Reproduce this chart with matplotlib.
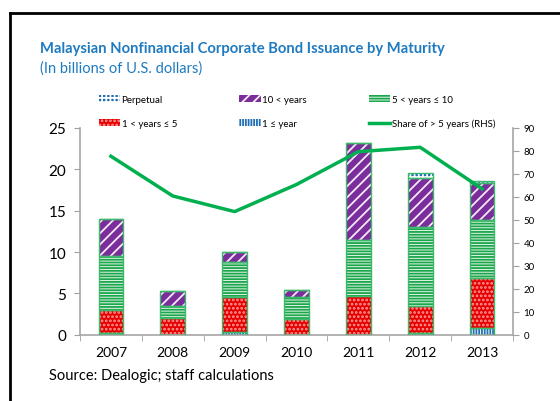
import matplotlib
matplotlib.use("Agg")
import matplotlib.pyplot as plt
import numpy as np
from matplotlib.patches import Patch
from matplotlib.lines import Line2D

plt.rcParams['font.family'] = ['Lato', 'DejaVu Sans']
plt.rcParams['hatch.linewidth'] = 1.3

years = ["2007", "2008", "2009", "2010", "2011", "2012", "2013"]
one_year = [0.15, 0.0, 0.3, 0.0, 0.0, 0.15, 0.8]
one_to_five = [2.85, 2.05, 4.3, 1.85, 4.7, 3.35, 6.05]
five_to_ten = [6.5, 1.4, 4.2, 2.65, 6.75, 9.5, 7.05]
over_ten = [4.5, 1.85, 1.15, 0.95, 11.75, 6.0, 4.5]
perpetual = [0.0, 0.0, 0.0, 0.0, 0.0, 0.5, 0.2]
share_over5 = [77.7, 60.4, 53.6, 65.4, 79.7, 81.6, 63.5]

# (values, facecolor, hatch, hatch colour, label)
series = [
    (one_year, "white", "||||||", "#1f6fb5", "1 \u2264 year"),
    (one_to_five, "#e50000", "....", "#ff9a9a", "1 < years \u2264 5"),
    (five_to_ten, "#e6f5ea", "------", "#1aa64a", "5 < years \u2264 10"),
    (over_ten, "#7b2d9b", "///", "#f4eaf8", "10 < years"),
    (perpetual, "#1f6fb5", "++++", "white", "Perpetual"),
]

fig = plt.figure(figsize=(5.6, 4.02), dpi=100)
ax = fig.add_axes([80 / 560, 1 - 335.7 / 402, 433 / 560, 206.7 / 402])
ax2 = ax.twinx()

x = np.arange(len(years))
bottom = np.zeros(len(years))
handles = {}
for vals, fc, hatch, hc, label in series:
    vals = np.array(vals)
    ax.bar(x, vals, 0.4, bottom=bottom, color=fc, hatch=hatch, edgecolor=hc, linewidth=0, zorder=2)
    ax.bar(x, vals, 0.4, bottom=bottom, fill=False, edgecolor="#3cb96a", linewidth=1.0, zorder=3)
    handles[label] = Patch(facecolor=fc, hatch=hatch, edgecolor=hc, linewidth=0)
    bottom += vals

ax2.plot(x, share_over5, color="#00b04f", linewidth=2.5, zorder=4)
handles["Share of > 5 years (RHS)"] = Line2D([0], [0], color="#00b04f", linewidth=2.5)

ax.set_xlim(-0.5, len(years) - 0.5)
ax.set_ylim(0, 25)
ax.set_yticks([0, 5, 10, 15, 20, 25])
ax2.set_ylim(0, 90)
ax2.set_yticks(range(0, 91, 10))

ax.set_xticks(x)
ax.set_xticklabels(years, fontsize=10)
ax.set_xticks(np.arange(-0.5, len(years)), minor=True)
ax.tick_params(axis="x", which="major", length=0, pad=8)
ax.tick_params(axis="x", which="minor", length=4, color="#a0a0a0")
ax.tick_params(axis="y", labelsize=11, length=4, color="#a0a0a0", pad=6)
ax2.tick_params(axis="y", labelsize=7, length=4, color="#a0a0a0")

for a in (ax, ax2):
    a.spines["top"].set_visible(False)
    for s in ("left", "right", "bottom"):
        a.spines[s].set_color("#a6a6a6")
        a.spines[s].set_linewidth(1.2)
ax.spines["right"].set_visible(False)
ax2.spines["left"].set_visible(False)
ax2.spines["bottom"].set_visible(False)

order = ["Perpetual", "1 < years \u2264 5", "10 < years", "1 \u2264 year",
         "5 < years \u2264 10", "Share of > 5 years (RHS)"]
fig.legend([handles[k] for k in order], order, ncol=3, loc="upper left",
           bbox_to_anchor=(90 / 560, 1 - 87 / 402), frameon=False, fontsize=7,
           handlelength=2.2, handleheight=0.7, handletextpad=0.15,
           columnspacing=6.4, labelspacing=1.55)

fig.text(40 / 560, 1 - 49 / 402, "Malaysian Nonfinancial Corporate Bond Issuance by Maturity",
         fontsize=10.6, fontweight="bold", color="#1f7bc1", va="center")
fig.text(40 / 560, 1 - 69 / 402, "(In billions of U.S. dollars)",
         fontsize=10.5, color="#1f7bc1", va="center")
fig.text(49 / 560, 1 - 376 / 402, "Source: Dealogic; staff calculations",
         fontsize=10.5, color="black", va="center")

# frame around the chart
fig.add_artist(Line2D([10 / 560, 10 / 560], [0, 1 - 14 / 402], color="black", linewidth=2))
fig.add_artist(Line2D([10 / 560, 1], [1 - 14 / 402, 1 - 14 / 402], color="black", linewidth=2))

fig.savefig("out.png", dpi=100)
